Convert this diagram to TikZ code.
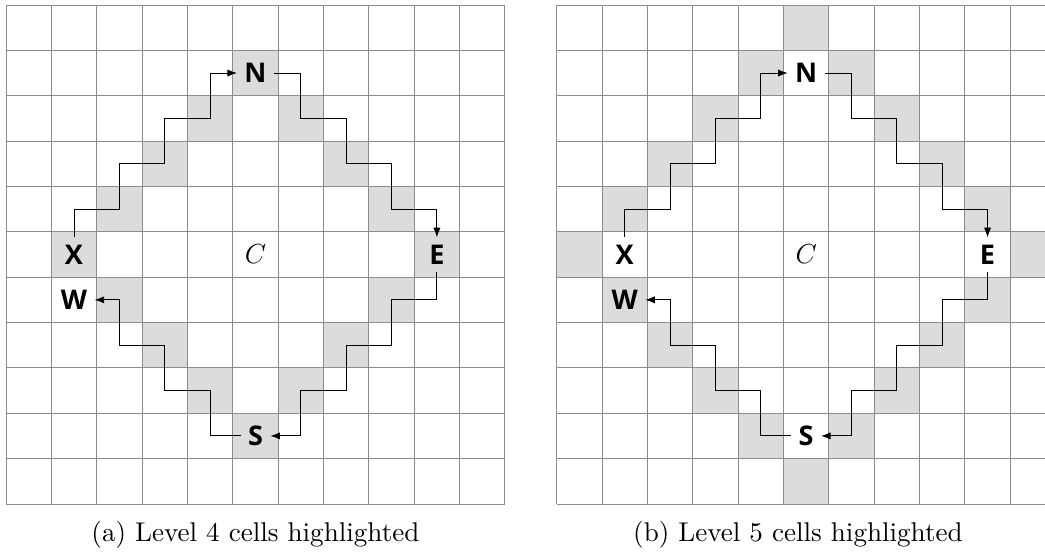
\documentclass[tikz,border=0pt]{standalone}
\usepackage{fontspec}
\newfontfamily\lblfont{Open Sans}
\usetikzlibrary{arrows.meta}
\definecolor{cellgray}{RGB}{220,220,220}
\definecolor{gridgray}{RGB}{140,140,140}
\tikzset{
  lbl/.style={font=\lblfont\bfseries\fontsize{17}{20}\selectfont, inner sep=4.5pt},
  centrelbl/.style={font=\fontsize{16}{18}\selectfont, inner sep=2pt},
  gridline/.style={draw=gridgray, line width=0.55pt},
  hl/.style={fill=cellgray},
  route/.style={draw=black, line width=0.55pt, line join=miter, -{Latex[length=6pt,width=4.5pt]}},
  captxt/.style={font=\fontsize{10}{12}\selectfont, inner sep=0pt, scale=1.7, transform shape}
}
\begin{document}
\begin{tikzpicture}
\useasboundingbox (-0.132,0.110) rectangle (22.906,-12.125);
\clip (-0.132,0.110) rectangle (22.906,-12.125);
\fill[white] (-0.132,0.110) rectangle (22.906,-12.125);
% level 4 cells (left)
\foreach \c/\r in {5/1,4/2,6/2,3/3,7/3,2/4,8/4,1/5,9/5,2/6,8/6,3/7,7/7,4/8,6/8,5/9}
  \fill[hl] (\c,-\r) rectangle ++(1,-1);
% level 5 cells (right)
\begin{scope}[xshift=12.14cm]
\foreach \c/\r in {5/0,4/1,6/1,3/2,7/2,2/3,8/3,1/4,9/4,0/5,10/5,1/6,9/6,2/7,8/7,3/8,7/8,4/9,6/9,5/10}
  \fill[hl] (\c,-\r) rectangle ++(1,-1);
\end{scope}
\foreach \p/\ox in {a/0,b/12.14} {
\begin{scope}[xshift=\ox cm]
  \draw[gridline] (0,0) grid (11,-11);
  \node[lbl] (\p N) at (5.5,-1.5) {N};
  \node[lbl] (\p E) at (9.5,-5.5) {E};
  \node[lbl] (\p S) at (5.5,-9.5) {S};
  \node[lbl] (\p X) at (1.5,-5.5) {X};
  \node[lbl] (\p W) at (1.5,-6.5) {W};
  \node[centrelbl] (\p C) at (5.5,-5.5) {$C$};
  \draw[route] (\p X.north) -- (1.5,-4.5) -- (2.5,-4.5) -- (2.5,-3.5) -- (3.5,-3.5) -- (3.5,-2.5) -- (4.5,-2.5) -- (4.5,-1.5) -- (\p N.west);
  \draw[route] (\p N.east) -- (6.5,-1.5) -- (6.5,-2.5) -- (7.5,-2.5) -- (7.5,-3.5) -- (8.5,-3.5) -- (8.5,-4.5) -- (9.5,-4.5) -- (\p E.north);
  \draw[route] (\p E.south) -- (9.5,-6.5) -- (8.5,-6.5) -- (8.5,-7.5) -- (7.5,-7.5) -- (7.5,-8.5) -- (6.5,-8.5) -- (6.5,-9.5) -- (\p S.east);
  \draw[route] (\p S.west) -- (4.5,-9.5) -- (4.5,-8.5) -- (3.5,-8.5) -- (3.5,-7.5) -- (2.5,-7.5) -- (2.5,-6.5) -- (\p W.east);
\end{scope}
}
\node[captxt] (capa) at (5.5,-11.68) {(a) Level 4 cells highlighted};
\node[captxt] (capb) at (17.46,-11.68) {(b) Level 5 cells highlighted};
\end{tikzpicture}
\end{document}
